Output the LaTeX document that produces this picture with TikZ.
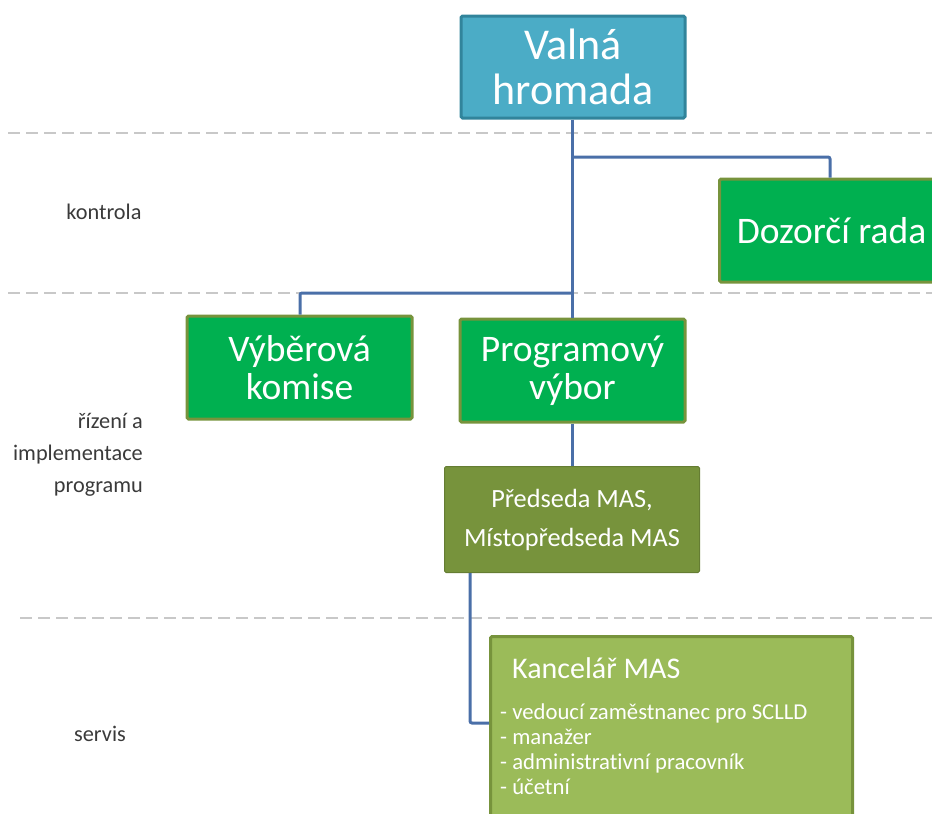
\documentclass[tikz,border=0pt]{standalone}
\usepackage{fontspec}
\setmainfont[Ligatures=NoCommon]{Carlito}
\definecolor{vhfill}{HTML}{4BACC6}
\definecolor{vhdraw}{HTML}{31849B}
\definecolor{gfill}{HTML}{00B050}
\definecolor{olive}{HTML}{77933C}
\definecolor{lgreen}{HTML}{9BBB59}
\definecolor{conn}{HTML}{4A6FA8}
\definecolor{dashc}{HTML}{C8C8C8}
\definecolor{lab}{HTML}{3A3A3A}
\begin{document}
\begin{tikzpicture}[x=1pt,y=-1pt,
  box/.style={draw, line width=3pt, rounded corners=1.5pt, align=center, text=white, inner sep=0pt},
  vhbox/.style={box, fill=vhfill, draw=vhdraw, minimum width=224pt, minimum height=102pt, font=\fontsize{44}{45}\selectfont},
  grbox/.style={box, fill=gfill, draw=olive, minimum width=225pt, minimum height=103pt, font=\fontsize{37.5}{38}\selectfont},
  olbox/.style={box, fill=olive, draw=olive!85!black, line width=1pt, minimum width=255pt, minimum height=106pt, font=\fontsize{26.3}{39}\selectfont},
  ltbox/.style={box, fill=lgreen, draw=olive, minimum width=362pt, minimum height=200pt},
  sidelab/.style={text=lab, font=\fontsize{22.3}{32}\selectfont, inner sep=0pt},
  sep/.style={draw=dashc, line width=1.5pt, dash pattern=on 12pt off 6pt},
  link/.style={draw=conn, line width=3pt, rounded corners=2pt}
]
\clip (0,0) rectangle (932,814);
\useasboundingbox (0,0) rectangle (932,814);

% separators
\coordinate (s1a) at (8,133);  \coordinate (s1b) at (932,133);
\coordinate (s2a) at (8,293);  \coordinate (s2b) at (932,293);
\coordinate (s3a) at (20,618); \coordinate (s3b) at (932,618);
\draw[sep] (s1a) -- (s1b);
\draw[sep] (s2a) -- (s2b);
\draw[sep] (s3a) -- (s3b);

% nodes
\node[vhbox] (vh) at (573,67) {Valná\\hromada};
\node[grbox, anchor=west] (dr) at (718,230.5) {\hspace*{15pt}Dozorčí rada\hspace*{16pt}};
\node[grbox] (vk) at (299.5,367.5) {Výběrová\\komise};
\node[grbox] (pv) at (572.5,370.5) {Programový\\výbor};
\node[olbox] (pm) at (572,519.5) {Předseda MAS,\\Místopředseda MAS};
\node[ltbox, anchor=north west] (km) at (489,635) {};
\node[anchor=west, text=white, inner sep=0pt, font=\fontsize{30}{32}\selectfont] (kmt) at (512,668) {Kancelář MAS};
\node[anchor=north west, text=white, inner sep=0pt, align=left, font=\fontsize{22.7}{25}\selectfont] (kml) at (500,704) {- vedoucí zaměstnanec pro SCLLD\\- manažer\\- administrativní pracovník\\- účetní};

% side labels
\node[sidelab] (l1) at (104,212) {kontrola};
\node[sidelab, align=right, anchor=east] (l2) at (143,455) {řízení a\\implementace\\programu};
\node[sidelab] (l3) at (100,734) {servis};

% connectors
\coordinate (j1) at (572,157);
\coordinate (j2) at (830,157);
\coordinate (j3) at (572,293);
\coordinate (j4) at (300,293);
\coordinate (pmb) at (470,573);
\coordinate (j5) at (470,723);
\draw[link] (vh.south -| j1) -- (pv.north -| j1);
\draw[link] (j1) -- (j2) -- (dr.north -| j2);
\draw[link] (j3) -- (j4) -- (vk.north -| j4);
\draw[link] (pv.south -| j1) -- (pm.north -| j1);
\draw[link] (pm.south -| pmb) -- (j5) -- (km.west |- j5);
\end{tikzpicture}
\end{document}
